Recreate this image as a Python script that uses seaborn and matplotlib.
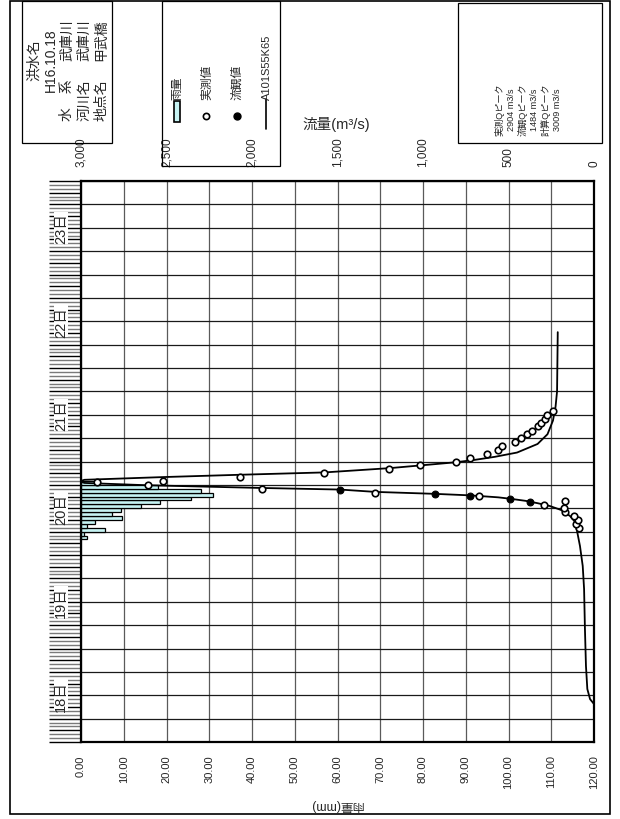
import matplotlib
matplotlib.use("Agg")
import matplotlib.pyplot as plt
import seaborn as sns
import numpy as np
from matplotlib.patches import Rectangle
from matplotlib.lines import Line2D
from matplotlib.ticker import FuncFormatter, MultipleLocator

sns.set_style("white")
plt.rcParams['font.family'] = ['Liberation Sans', 'Noto Sans CJK JP', 'DejaVu Sans']

# ---------------- data ----------------
# time axis: hours from 18日 00:00
day_labels = ["18日", "19日", "20日", "21日", "22日", "23日"]
# hourly rainfall (hour ending), mm
rain_hour_end = [53, 54, 55, 56, 57, 58, 59, 60, 61, 62, 63, 64, 65, 66, 67]
rain_mm = [1.3, 0.8, 5.5, 1.3, 3.2, 9.5, 7.3, 9.3, 14.0, 18.5, 25.8, 30.8, 28.0, 18.1, 4.4]

# calculated discharge A101S55K65
calc_h = [9.75, 11.0, 13.6, 19.5, 29.0, 39.3, 45.2, 50.3, 53.9, 56.5, 58.0, 59.5, 60.6,
          61.3, 61.9, 62.4, 62.8, 63.3, 63.7, 64.2, 64.8, 65.2, 65.9, 66.5, 66.9, 67.3,
          68.0, 68.6, 69.2, 70.3, 71.0, 71.8, 72.4, 73.2, 74.3, 76.5, 79.0, 82.5, 86.0,
          90.0, 105.2]
calc_q = [0, 23, 39, 47, 53, 58, 66, 82, 98, 111, 140, 189, 260,
          330, 400, 483, 560, 721, 932, 1280, 1485, 1937, 2611, 2980, 3009, 2980,
          2520, 2068, 1575, 1194, 1013, 809, 700, 580, 450, 330, 272, 240, 225,
          216, 212]

# observed discharge (実測値)
obs_h = [54.9, 56.0, 57.0, 58.0, 59.0, 60.1, 60.9, 61.9, 63.1, 64.0, 65.0, 66.0, 66.7,
         67.1, 68.0, 69.0, 70.1, 71.0, 72.0, 73.0, 73.9, 75.0, 76.0, 77.0, 78.0, 79.0,
         79.9, 81.0, 82.0, 83.0, 84.0, 85.0]
obs_q = [90, 105, 92, 115, 170, 174, 293, 171, 671, 1280, 1942, 2608, 2904,
         2520, 2068, 1579, 1199, 1017, 808, 723, 625, 561, 536, 460, 424, 389,
         364, 329, 309, 289, 273, 239]

# flow-observation discharge (流観値)
fo_h = [61.6, 62.5, 63.2, 63.7, 64.8]
fo_q = [374, 494, 725, 932, 1485]

q_ticks = [0, 500, 1000, 1500, 2000, 2500, 3000]
rain_ticks = [0, 10, 20, 30, 40, 50, 60, 70, 80, 90, 100, 110, 120]

peak_lines = ["実測Qピーク", "2904 m3/s", "流観Qピーク", "1484 m3/s", "計算Qピーク", "3009 m3/s"]
info_labels = ["水　系", "河川名", "地点名"]
info_values = ["武庫川", "武庫川", "甲武橋"]

# ---------------- figure ----------------
W, H = 620, 820
fig = plt.figure(figsize=(W / 100, H / 100), dpi=100)

def fx(x):
    return x / W

def fy(y):
    return 1 - y / H

L, R, T, B = 81, 594, 182, 743
ax = fig.add_axes([fx(L), fy(B), (R - L) / W, (B - T) / H])
ax.set_xlim(0, 120)
ax.set_ylim(0, 144)

# grid
for v in rain_ticks:
    ax.axvline(v, color='#5a5a5a', lw=0.9, zorder=0.5)
for hh in range(0, 145, 6):
    ax.axhline(hh, color='#1a1a1a', lw=0.9, zorder=0.5)

# rain bars
ax.barh([h - 0.5 for h in rain_hour_end], rain_mm, height=1.0, left=0,
        color='#c6f3f3', edgecolor='black', linewidth=0.9, zorder=2)

ax.set_xticks(rain_ticks)
ax.xaxis.set_major_formatter(FuncFormatter(lambda v, p: f"{v:.2f}"))
ax.tick_params(axis='x', bottom=True, length=0, pad=9, labelsize=8, labelrotation=90)
ax.set_yticks(list(range(0, 145, 3)))
ax.set_yticklabels([])
ax.tick_params(axis='y', which='major', left=True, length=23, width=1.0, color='black', direction='out')
ax.yaxis.set_minor_locator(MultipleLocator(1))
ax.tick_params(axis='y', which='minor', left=True, length=23, width=1.0, color='#7a7a7a', direction='out')
ax.set_xlabel("")
for s in ax.spines.values():
    s.set_linewidth(1.6)
    s.set_color('black')

# discharge axis
axq = ax.twiny()
axq.set_xlim(3000, 0)
axq.set_ylim(0, 144)
sns.lineplot(x=calc_q, y=calc_h, sort=False, estimator=None, color='black', lw=1.3, ax=axq, zorder=3)
sns.scatterplot(x=obs_q, y=obs_h, marker='o', s=22, facecolor='white', edgecolor='black',
                linewidth=1.2, ax=axq, zorder=4)
sns.scatterplot(x=fo_q, y=fo_h, marker='o', s=24, color='black', edgecolor='black',
                linewidth=0.8, ax=axq, zorder=5)
axq.set_xticks(q_ticks)
axq.xaxis.set_major_formatter(FuncFormatter(lambda v, p: f"{int(v):,}"))
axq.tick_params(axis='x', top=True, length=0, pad=11, labelsize=8.5, labelrotation=90)
axq.set_xlabel("")
axq.set_ylabel("")
for s in axq.spines.values():
    s.set_visible(False)

# day labels
for i, d in enumerate(day_labels):
    fig.text(fx(61), fy(B - (i * 24 + 12) * (B - T) / 144), d, rotation=90, ha='center', va='center',
             fontsize=10.5, bbox=dict(facecolor='white', edgecolor='none', pad=0.3))

# axis labels
fig.text(fx(302), fy(124), "流量(m³/s)", ha='left', va='center', fontsize=10.5)
fig.text(fx(337), fy(806), "雨量(mm)", rotation=180, ha='center', va='center', fontsize=9)

# outer border
fig.add_artist(Rectangle((fx(10), fy(815)), (610 - 10) / W, (815 - 2) / H, transform=fig.transFigure,
                         fill=False, edgecolor='black', lw=1.2))

# info box 1
fig.add_artist(Rectangle((fx(22), fy(144)), (112 - 22) / W, (144 - 2) / H, transform=fig.transFigure,
                         fill=False, edgecolor='black', lw=0.9))
fig.text(fx(34), fy(60), "洪水名", rotation=90, ha='center', va='center', fontsize=10)
fig.text(fx(51), fy(60), "H16.10.18", rotation=90, ha='center', va='center', fontsize=10)
for i, (lab, val) in enumerate(zip(info_labels, info_values)):
    xc = 67 + i * 17
    fig.text(fx(xc), fy(121), lab, rotation=90, ha='center', va='bottom', fontsize=10)
    fig.text(fx(xc), fy(19), val, rotation=90, ha='center', va='top', fontsize=10)

# legend box
fig.add_artist(Rectangle((fx(162), fy(167)), (280 - 162) / W, (167 - 2) / H, transform=fig.transFigure,
                         fill=False, edgecolor='black', lw=0.9))
fig.add_artist(Rectangle((fx(173.5), fy(123)), 6 / W, 21 / H, transform=fig.transFigure,
                         facecolor='#c6f3f3', edgecolor='black', lw=1.2))
fig.text(fx(177), fy(100), "雨量", rotation=90, ha='center', va='bottom', fontsize=8.5)
fig.add_artist(Line2D([fx(206)], [fy(117)], marker='o', markersize=4.5, markerfacecolor='white',
                      markeredgecolor='black', markeredgewidth=1.2, transform=fig.transFigure))
fig.text(fx(207), fy(100), "実測値", rotation=90, ha='center', va='bottom', fontsize=8.5)
fig.add_artist(Line2D([fx(236.5)], [fy(117)], marker='o', markersize=5, color='black',
                      transform=fig.transFigure))
fig.text(fx(237), fy(100), "流観値", rotation=90, ha='center', va='bottom', fontsize=8.5)
fig.add_artist(Line2D([fx(266), fx(266)], [fy(100), fy(130)], color='black', lw=1.2,
                      transform=fig.transFigure))
fig.text(fx(267), fy(100), "A101S55K65", rotation=90, ha='center', va='bottom', fontsize=8)

# peak box
fig.add_artist(Rectangle((fx(458), fy(144)), (602 - 458) / W, (144 - 4) / H, transform=fig.transFigure,
                         fill=False, edgecolor='black', lw=0.9))
peak_x = [500, 511.5, 523, 534.5, 546, 557.5]
for px_, t in zip(peak_x, peak_lines):
    fig.text(fx(px_), fy(110), t, rotation=90, ha='center', va='center', fontsize=6.6)

fig.savefig("out.png", dpi=100)
